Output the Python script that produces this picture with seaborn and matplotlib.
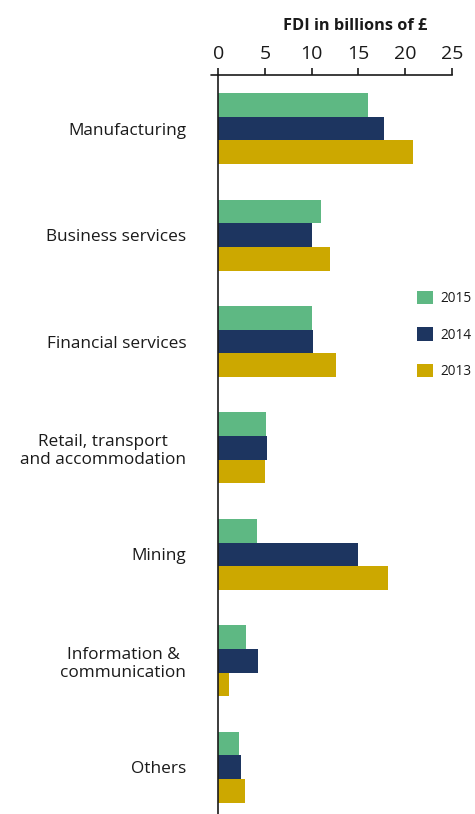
import pandas as pd
import matplotlib
matplotlib.use('Agg')
import matplotlib.pyplot as plt
import seaborn as sns

# FDI by sector, billions of pounds
sectors = ['Manufacturing', 'Business services', 'Financial services',
           'Retail, transport\nand accommodation', 'Mining',
           'Information &\ncommunication', 'Others']
fdi_2015 = [16.0, 11.0, 10.0, 5.1, 4.1, 3.0, 2.2]
fdi_2014 = [17.7, 10.0, 10.1, 5.2, 15.0, 4.2, 2.4]
fdi_2013 = [20.8, 12.0, 12.6, 5.0, 18.2, 1.1, 2.9]
years = ['2015', '2014', '2013']
xticks = [0, 5, 10, 15, 20, 25]

colors = {'2015': '#5eb883', '2014': '#1d3560', '2013': '#cca800'}

rows = []
for yr, vals in zip(years, [fdi_2015, fdi_2014, fdi_2013]):
    for s, v in zip(sectors, vals):
        rows.append({'sector': s, 'year': yr, 'fdi': v})
df = pd.DataFrame(rows)

sns.set_style('white')
plt.rcParams['font.family'] = ['Open Sans', 'DejaVu Sans']
ink = '#1a1a1a'

fig = plt.figure(figsize=(4.75, 8.14), dpi=100)
ax = fig.add_axes([0.4596, 0.0, 0.4914, 0.9073])

sns.barplot(data=df, x='fdi', y='sector', hue='year', hue_order=years,
            order=sectors, palette=colors, saturation=1, orient='h',
            width=0.667, gap=0, linewidth=0, ax=ax, legend=True)

ax.set_xlim(0, 25)
ax.set_ylim(6.44, -0.5)
ax.xaxis.tick_top()
ax.set_xticks(xticks)
ax.set_xticklabels([str(t) for t in xticks], fontsize=14, color=ink)
ax.set_xlabel('')
ax.set_ylabel('')
ax.tick_params(axis='x', direction='out', length=5, width=1.2, color=ink, pad=4)
ax.tick_params(axis='y', which='major', length=0, pad=23, labelsize=12.4, labelcolor=ink)
ax.set_yticks([i + 0.5 for i in range(len(sectors) - 1)], minor=True)
ax.tick_params(axis='y', which='minor', direction='out', length=5, width=1.2, color=ink)
for lab in ax.get_yticklabels():
    lab.set_horizontalalignment('right')
    lab.set_multialignment('center')

for side in ['right', 'bottom']:
    ax.spines[side].set_visible(False)
for side in ['top', 'left']:
    ax.spines[side].set_visible(True)
    ax.spines[side].set_color(ink)
    ax.spines[side].set_linewidth(1.2)
# short stub of the top rule left of zero
ax.plot([-0.03, 0], [1, 1], transform=ax.transAxes, clip_on=False,
        color=ink, linewidth=1.2)

fig.text(355 / 475, 1 - 26 / 814, 'FDI in billions of £', ha='center',
         va='center', fontsize=11.8, fontweight='bold', color=ink)

ax.legend(loc='center left', bbox_to_anchor=(417 / 475, 1 - 335 / 814),
          bbox_transform=fig.transFigure, frameon=False, fontsize=9.8,
          borderpad=0, borderaxespad=0,
          handlelength=1.15, handleheight=1.15, labelspacing=1.55,
          handletextpad=0.6, labelcolor=ink)

fig.savefig('out.png', dpi=100)
